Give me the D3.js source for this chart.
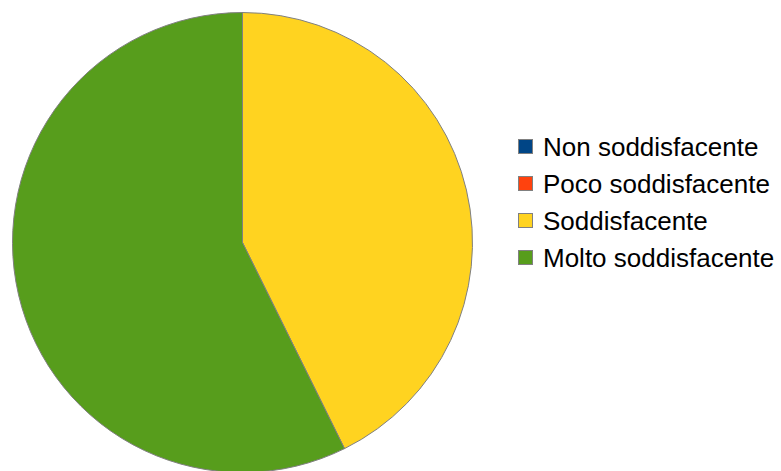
<!DOCTYPE html>
<html>
<head>
<meta charset="utf-8">
<script src="https://cdn.jsdelivr.net/npm/d3@7"></script>
<style>
html,body{margin:0;padding:0;background:#fff;}
svg{display:block;}
</style>
</head>
<body>
<svg id="chart" width="781" height="471"></svg>
<script>
const categories = ["Non soddisfacente", "Poco soddisfacente", "Soddisfacente", "Molto soddisfacente"];
const values = [0, 0, 35, 47];
const colors = ["#004586", "#ff420e", "#ffd320", "#579d1c"];

const svg = d3.select("#chart");
const cx = 242.5, cy = 242.5, r = 230;

const pie = d3.pie().sort(null).value(d => d.v);
const arc = d3.arc().innerRadius(0).outerRadius(r);
const data = categories.map((c, i) => ({c, v: values[i], col: colors[i]}));

svg.append("g").attr("transform", `translate(${cx},${cy})`)
  .selectAll("path").data(pie(data)).join("path")
  .attr("d", arc)
  .attr("fill", d => d.data.col)
  .attr("stroke", "#808080")
  .attr("stroke-width", 1)
  .attr("stroke-linejoin", "round");

const color = d3.scaleOrdinal().domain(categories).range(colors);
const y = d3.scalePoint().domain(categories).range([146.5, 257.5]);

const lg = svg.append("g");
const items = lg.selectAll("g").data(categories).join("g")
  .attr("transform", d => `translate(0,${y(d)})`);
items.append("rect")
  .attr("x", 518.5).attr("y", -7)
  .attr("width", 14).attr("height", 14)
  .attr("fill", d => color(d))
  .attr("stroke", "#808080").attr("stroke-width", 1);
items.append("text")
  .attr("x", 543).attr("y", 9.5)
  .attr("font-family", "'Liberation Sans', Arial, sans-serif")
  .attr("font-size", 26)
  .attr("fill", "#000")
  .text(d => d);
</script>
</body>
</html>
